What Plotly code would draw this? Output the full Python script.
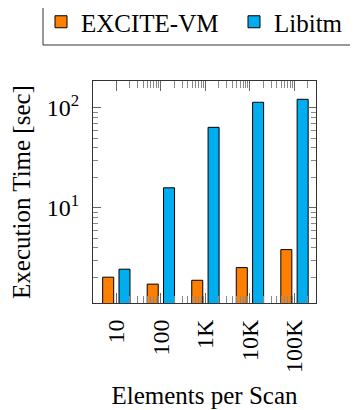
import numpy as np
import plotly.graph_objects as go

categories = ["10", "100", "1K", "10K", "100K"]
excite_vm = [2.03, 1.73, 1.89, 2.53, 3.83]
libitm = [2.44, 15.9, 64.0, 114.0, 122.0]
y_tick_vals = [10, 100]
y_tick_text = ["10<sup>1</sup>", "10<sup>2</sup>"]

xpos = list(range(len(categories)))
x_range = [-0.524, 4.483]
y_range = [np.log10(1.12), np.log10(186)]

# log-style minor ticks between category positions (one decade per category)
minor_x = [i + np.log10(k) for i in xpos for k in range(2, 10)
           if i + np.log10(k) < x_range[1]]
minor_y = [m * 10 ** d for d in range(0, 3) for m in range(2, 10)
           if np.log10(m * 10 ** d) < y_range[1]]

FONT = "Liberation Serif, Times New Roman, serif"
ORANGE = "#FF8000"
BLUE = "#00AEEF"

# the page adds an 8px body margin, so the figure is drawn 8px smaller
OFF = 8
W, H = 358 - OFF, 410 - OFF
L, R, T, B = 93 - OFF, 42, 81 - OFF, 107
PW, PH = W - L - R, H - T - B


def px_x(p):  # screen pixel -> paper x
    return (p - OFF - L) / PW


def px_y(p):  # screen pixel -> paper y
    return 1 + (T - (p - OFF)) / PH


fig = go.Figure()
fig.add_trace(go.Bar(x=xpos, y=excite_vm, name="EXCITE-VM", legend="legend",
                     marker=dict(color=ORANGE, line=dict(color="black", width=1))))
fig.add_trace(go.Bar(x=xpos, y=libitm, name="Libitm", legend="legend2",
                     marker=dict(color=BLUE, line=dict(color="black", width=1))))

leg_common = dict(orientation="h", yanchor="middle", xanchor="left",
                  bgcolor="rgba(0,0,0,0)", borderwidth=0,
                  font=dict(family=FONT, size=25, color="black"), itemwidth=30)

fig.update_layout(
    width=W, height=H,
    margin=dict(l=L, r=R, t=T, b=B, autoexpand=False),
    paper_bgcolor="white", plot_bgcolor="white",
    font=dict(family=FONT, size=24, color="black"),
    barmode="group", bargap=0.267, bargroupgap=0.325,
    showlegend=True,
    legend=dict(x=px_x(41), y=px_y(22), **leg_common),
    legend2=dict(x=px_x(234), y=px_y(22), **leg_common),
    shapes=[dict(type="rect", xref="paper", yref="paper",
                 x0=px_x(43), x1=px_x(357), y0=px_y(45), y1=px_y(4),
                 line=dict(color="#333", width=1), fillcolor="rgba(0,0,0,0)",
                 layer="below")],
)

fig.update_xaxes(
    range=x_range, tickmode="array", tickvals=xpos, ticktext=categories,
    tickangle=-90, ticks="inside", ticklen=10, tickcolor="#666", tickwidth=1,
    showline=True, linecolor="#333", linewidth=1, mirror="ticks",
    showgrid=False, zeroline=False,
    tickfont=dict(family=FONT, size=24, color="black"), ticklabelstandoff=6,
    minor=dict(tickmode="array", tickvals=minor_x, ticks="inside", ticklen=7,
               tickcolor="#888", tickwidth=1, showgrid=False),
    title=dict(text="Elements per Scan", font=dict(family=FONT, size=25, color="black"),
               standoff=14),
    automargin=False,
)
fig.update_yaxes(
    type="log", range=y_range, tickmode="array", tickvals=y_tick_vals,
    ticktext=y_tick_text, ticks="inside", ticklen=8, tickcolor="#666", tickwidth=1,
    showline=True, linecolor="#333", linewidth=1, mirror="ticks",
    showgrid=False, zeroline=False,
    tickfont=dict(family=FONT, size=24, color="black"), ticklabelstandoff=8,
    minor=dict(tickmode="array", tickvals=minor_y, ticks="inside", ticklen=5,
               tickcolor="#888", tickwidth=1, showgrid=False),
    title=dict(text="Execution Time [sec]", font=dict(family=FONT, size=25, color="black"),
               standoff=9),
    automargin=False,
)

fig.write_html("out.html")
